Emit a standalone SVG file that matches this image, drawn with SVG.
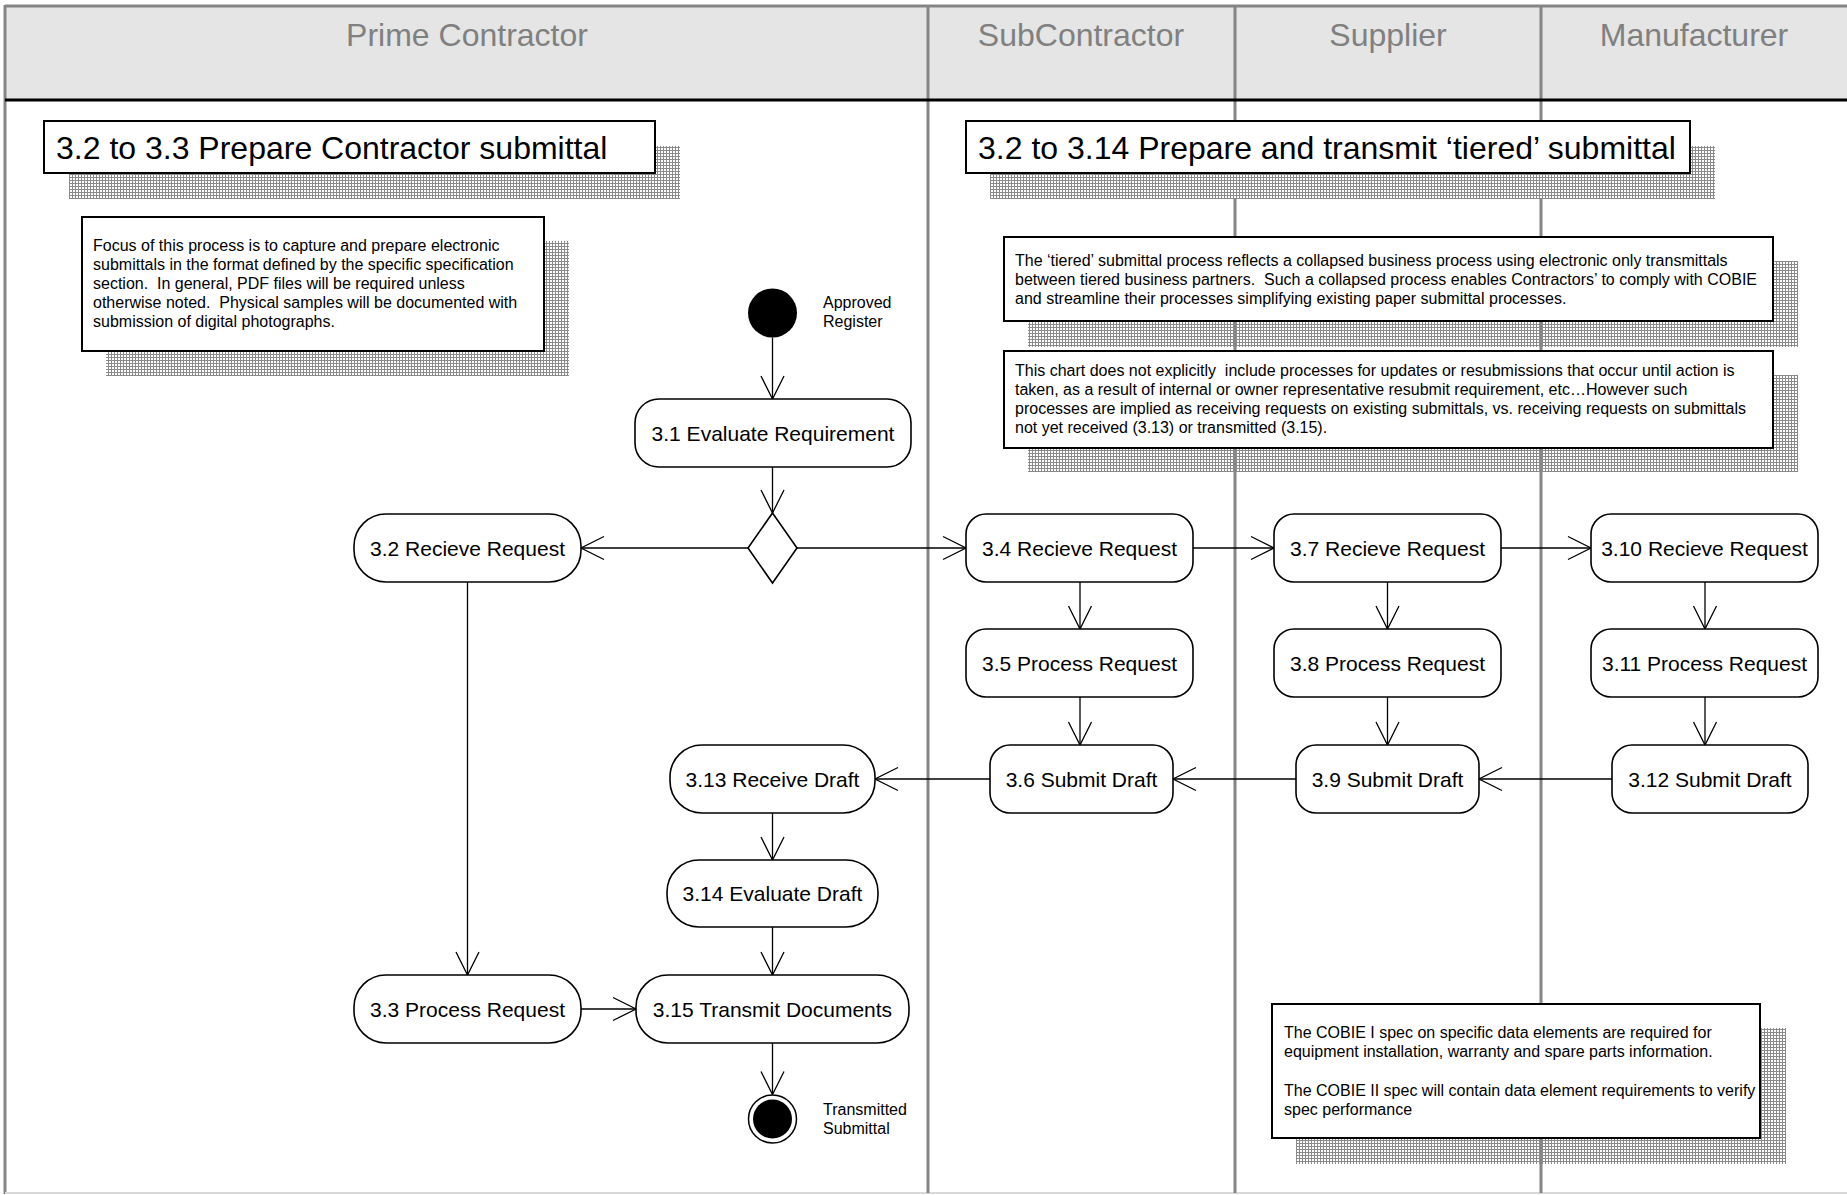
<svg xmlns="http://www.w3.org/2000/svg" width="1847" height="1195" viewBox="0 0 1847 1195">
<style>
text{font-family:"Liberation Sans",Arial,sans-serif;white-space:pre}
.lane{font-size:32px;fill:#808080;text-anchor:middle}
.title{font-size:32px;fill:#000}
.note{font-size:16px;fill:#000}
.lbl{font-size:16px;fill:#000}
.nt{font-size:21px;fill:#000;text-anchor:middle}
.node{fill:#fff;stroke:#000;stroke-width:1.6}
.box{fill:#fff;stroke:#000;stroke-width:2}
.div{stroke:#858585;stroke-width:3;fill:none}
.conn line{stroke:#000;stroke-width:1.3;marker-end:url(#arr)}
</style>
<defs>
<pattern id="hatchW" width="3" height="3" patternUnits="userSpaceOnUse"><rect width="3" height="3" fill="#fff"/><rect width="1" height="3" fill="#8a8a8a"/><rect width="3" height="1" fill="#8a8a8a"/></pattern>
<pattern id="hatch" width="3" height="3" patternUnits="userSpaceOnUse"><rect width="1" height="3" fill="#8a8a8a"/><rect x="1" width="2" height="1" fill="#8a8a8a"/></pattern>
<marker id="arr" markerUnits="userSpaceOnUse" viewBox="-25 -13 27 26" refX="0" refY="0" markerWidth="27" markerHeight="26" orient="auto"><path d="M-23,-11.5 L0,0 L-23,11.5" fill="none" stroke="#000" stroke-width="1.3"/></marker>
</defs>
<rect x="0" y="0" width="1847" height="1195" fill="#fff"/>
<g id="pool">
<rect x="5" y="6" width="1842" height="94" fill="#e5e5e5"/>
<line x1="5" y1="6" x2="1847" y2="6" class="div"/>
<line x1="5" y1="5" x2="5" y2="1194" class="div"/>
<line x1="5" y1="1193" x2="1847" y2="1193" stroke="#d8d8d8" stroke-width="2"/>
<line x1="928" y1="5" x2="928" y2="1193" class="div"/>
<line x1="1235" y1="5" x2="1235" y2="1193" class="div"/>
<line x1="1541" y1="5" x2="1541" y2="1193" class="div"/>
<line x1="5" y1="100" x2="1847" y2="100" stroke="#000" stroke-width="3"/>
<text class="lane" x="467" y="46">Prime Contractor</text>
<text class="lane" x="1081" y="46">SubContractor</text>
<text class="lane" x="1388" y="46">Supplier</text>
<text class="lane" x="1694" y="46">Manufacturer</text>
</g>
<g id="title1">
<rect x="69" y="146" width="611" height="53" fill="url(#hatchW)"/>
<rect class="box" x="44" y="121" width="611" height="52"/>
<text class="title" x="56" y="159">3.2 to 3.3 Prepare Contractor submittal</text>
</g>
<g id="title2">
<rect x="990" y="146" width="725" height="53" fill="url(#hatchW)"/>
<rect class="box" x="966" y="121" width="724" height="52"/>
<text class="title" x="978" y="159">3.2 to 3.14 Prepare and transmit ‘tiered’ submittal</text>
</g>
<g id="note1">
<rect x="106" y="241" width="463" height="135" fill="url(#hatch)"/>
<rect class="box" x="82" y="217" width="462" height="134"/>
<text class="note" x="93" y="251">Focus of this process is to capture and prepare electronic</text>
<text class="note" x="93" y="270">submittals in the format defined by the specific specification</text>
<text class="note" x="93" y="289">section.  In general, PDF files will be required unless</text>
<text class="note" x="93" y="308">otherwise noted.  Physical samples will be documented with</text>
<text class="note" x="93" y="327">submission of digital photographs.</text>
</g>
<g id="note2">
<rect x="1028" y="261" width="770" height="86" fill="url(#hatch)"/>
<rect class="box" x="1004" y="237" width="769" height="84"/>
<text class="note" x="1015" y="266">The ‘tiered’ submittal process reflects a collapsed business process using electronic only transmittals</text>
<text class="note" x="1015" y="285">between tiered business partners.  Such a collapsed process enables Contractors’ to comply with COBIE</text>
<text class="note" x="1015" y="304">and streamline their processes simplifying existing paper submittal processes.</text>
</g>
<g id="note3">
<rect x="1028" y="375" width="770" height="97" fill="url(#hatch)"/>
<rect class="box" x="1004" y="351" width="769" height="97"/>
<text class="note" x="1015" y="376">This chart does not explicitly  include processes for updates or resubmissions that occur until action is</text>
<text class="note" x="1015" y="395">taken, as a result of internal or owner representative resubmit requirement, etc…However such</text>
<text class="note" x="1015" y="414">processes are implied as receiving requests on existing submittals, vs. receiving requests on submittals</text>
<text class="note" x="1015" y="433">not yet received (3.13) or transmitted (3.15).</text>
</g>
<g id="note4">
<rect x="1296" y="1028" width="490" height="136" fill="url(#hatch)"/>
<rect class="box" x="1272" y="1004" width="488" height="134"/>
<text class="note" x="1284" y="1038">The COBIE I spec on specific data elements are required for</text>
<text class="note" x="1284" y="1057">equipment installation, warranty and spare parts information.</text>
<text class="note" x="1284" y="1096">The COBIE II spec will contain data element requirements to verify</text>
<text class="note" x="1284" y="1115">spec performance</text>
</g>
<g id="connectors" class="conn">
<line x1="772.5" y1="337.5" x2="772.5" y2="399"/>
<line x1="772.5" y1="467" x2="772.5" y2="513"/>
<line x1="748" y1="548" x2="581" y2="548"/>
<line x1="797" y1="548" x2="966" y2="548"/>
<line x1="1193" y1="548" x2="1274" y2="548"/>
<line x1="1501" y1="548" x2="1591" y2="548"/>
<line x1="1080" y1="582" x2="1080" y2="629"/>
<line x1="1080" y1="697" x2="1080" y2="745"/>
<line x1="1387.5" y1="582" x2="1387.5" y2="629"/>
<line x1="1387.5" y1="697" x2="1387.5" y2="745"/>
<line x1="1705" y1="582" x2="1705" y2="629"/>
<line x1="1705" y1="697" x2="1705" y2="745"/>
<line x1="1612" y1="779" x2="1479" y2="779"/>
<line x1="1296" y1="779" x2="1173" y2="779"/>
<line x1="990" y1="779" x2="875" y2="779"/>
<line x1="772.5" y1="813" x2="772.5" y2="860"/>
<line x1="772.5" y1="927" x2="772.5" y2="975"/>
<line x1="772.5" y1="1043" x2="772.5" y2="1094.5"/>
<line x1="467.5" y1="582" x2="467.5" y2="975"/>
<line x1="581" y1="1009" x2="636" y2="1009"/>
</g>
<g id="start">
<circle cx="772.5" cy="313" r="24.5" fill="#000"/>
<text class="lbl" x="823" y="308">Approved</text>
<text class="lbl" x="823" y="327">Register</text>
</g>
<g id="n3_1"><rect class="node" x="635" y="399" width="276" height="68" rx="24" ry="24"/><text class="nt" x="773" y="441">3.1 Evaluate Requirement</text></g>
<g id="decision"><polygon class="node" points="772.5,513 797,548 772.5,583 748,548"/></g>
<g id="n3_2"><rect class="node" x="354" y="514" width="227" height="68" rx="32" ry="32"/><text class="nt" x="467.5" y="556">3.2 Recieve Request</text></g>
<g id="n3_3"><rect class="node" x="354" y="975" width="227" height="68" rx="32" ry="32"/><text class="nt" x="467.5" y="1017">3.3 Process Request</text></g>
<g id="n3_4"><rect class="node" x="966" y="514" width="227" height="68" rx="20" ry="20"/><text class="nt" x="1079.5" y="556">3.4 Recieve Request</text></g>
<g id="n3_5"><rect class="node" x="966" y="629" width="227" height="68" rx="20" ry="20"/><text class="nt" x="1079.5" y="671">3.5 Process Request</text></g>
<g id="n3_6"><rect class="node" x="990" y="745" width="183" height="68" rx="20" ry="20"/><text class="nt" x="1081.5" y="787">3.6 Submit Draft</text></g>
<g id="n3_7"><rect class="node" x="1274" y="514" width="227" height="68" rx="20" ry="20"/><text class="nt" x="1387.5" y="556">3.7 Recieve Request</text></g>
<g id="n3_8"><rect class="node" x="1274" y="629" width="227" height="68" rx="20" ry="20"/><text class="nt" x="1387.5" y="671">3.8 Process Request</text></g>
<g id="n3_9"><rect class="node" x="1296" y="745" width="183" height="68" rx="20" ry="20"/><text class="nt" x="1387.5" y="787">3.9 Submit Draft</text></g>
<g id="n3_10"><rect class="node" x="1591" y="514" width="227" height="68" rx="20" ry="20"/><text class="nt" x="1704.5" y="556">3.10 Recieve Request</text></g>
<g id="n3_11"><rect class="node" x="1591" y="629" width="227" height="68" rx="20" ry="20"/><text class="nt" x="1704.5" y="671">3.11 Process Request</text></g>
<g id="n3_12"><rect class="node" x="1612" y="745" width="196" height="68" rx="20" ry="20"/><text class="nt" x="1710" y="787">3.12 Submit Draft</text></g>
<g id="n3_13"><rect class="node" x="670" y="745" width="205" height="68" rx="32" ry="32"/><text class="nt" x="772.5" y="787">3.13 Receive Draft</text></g>
<g id="n3_14"><rect class="node" x="667" y="860" width="211" height="67" rx="32" ry="32"/><text class="nt" x="772.5" y="901">3.14 Evaluate Draft</text></g>
<g id="n3_15"><rect class="node" x="636" y="975" width="273" height="68" rx="32" ry="32"/><text class="nt" x="772.5" y="1017">3.15 Transmit Documents</text></g>
<g id="end">
<circle cx="772.5" cy="1119" r="24" fill="#fff" stroke="#000" stroke-width="1.5"/>
<circle cx="772.5" cy="1119" r="19.5" fill="#000"/>
<text class="lbl" x="823" y="1115">Transmitted</text>
<text class="lbl" x="823" y="1134">Submittal</text>
</g>
</svg>
